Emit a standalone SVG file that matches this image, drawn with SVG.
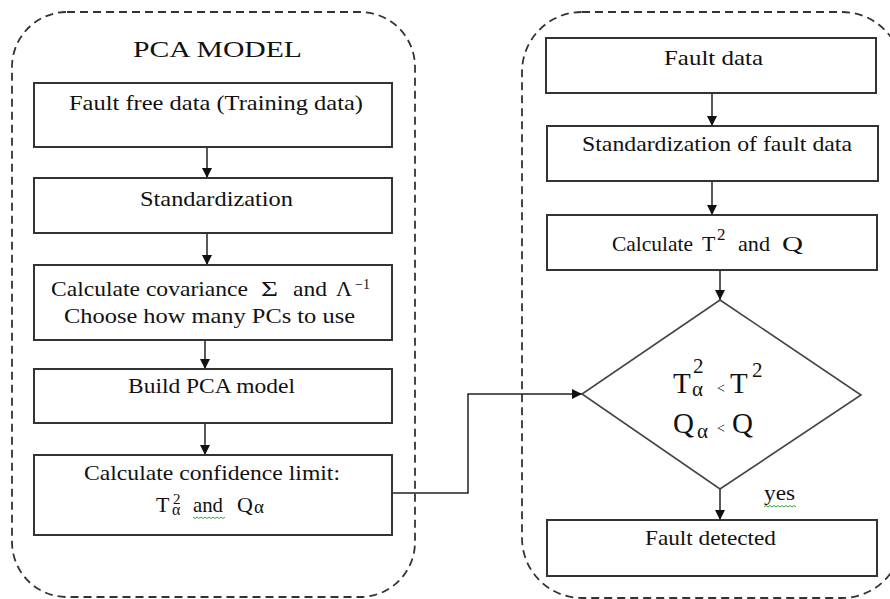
<svg xmlns="http://www.w3.org/2000/svg" width="890" height="599" viewBox="0 0 890 599">
  <style>
    .frame { fill: none; stroke: #333; stroke-width: 1.8; stroke-dasharray: 8 5; }
    .box { fill: #fff; stroke: #333; stroke-width: 2; }
    .dia { fill: #fff; stroke: #444; stroke-width: 1.6; }
    .edge { fill: none; stroke: #222; stroke-width: 1.5; }
    .t { font-family: "Liberation Serif", "Times New Roman", serif; font-size: 22px; fill: #111; }
    .title { font-size: 24px; }
    .big { font-size: 29px; }
    .sup { font-size: 16px; }
    .lt { font-size: 14px; }
    .squig { fill: none; stroke: #3a3; stroke-width: 1; }
  </style>
  <defs>
    <marker id="arrow" markerUnits="userSpaceOnUse" markerWidth="11" markerHeight="11" refX="10" refY="5" orient="auto">
      <path d="M0,0 L10,5 L0,10 z" fill="#111"/>
    </marker>
  </defs>

  <rect width="890" height="599" fill="#fff"/>

  <!-- dashed group frames -->
  <rect class="frame" x="12" y="12" width="403" height="585" rx="55" ry="55"/>
  <rect class="frame" x="522" y="12" width="380" height="586" rx="60" ry="60"/>

  <text class="t title" x="133" y="57" textLength="169" lengthAdjust="spacingAndGlyphs">PCA MODEL</text>

  <!-- connectors -->
  <g id="connectors">
    <line class="edge" x1="207" y1="147" x2="207" y2="178" marker-end="url(#arrow)"/>
    <line class="edge" x1="207" y1="233" x2="207" y2="265" marker-end="url(#arrow)"/>
    <line class="edge" x1="205" y1="340" x2="205" y2="369" marker-end="url(#arrow)"/>
    <line class="edge" x1="205" y1="423" x2="205" y2="455" marker-end="url(#arrow)"/>
    <polyline class="edge" points="392,493 468,493 468,394 582,394" marker-end="url(#arrow)"/>
    <line class="edge" x1="712" y1="93" x2="712" y2="126" marker-end="url(#arrow)"/>
    <line class="edge" x1="712" y1="181" x2="712" y2="215" marker-end="url(#arrow)"/>
    <line class="edge" x1="720" y1="270" x2="720" y2="300" marker-end="url(#arrow)"/>
    <line class="edge" x1="720" y1="489" x2="720" y2="520" marker-end="url(#arrow)"/>
    <text class="t" x="764" y="500" font-size="20" textLength="31" lengthAdjust="spacingAndGlyphs">yes</text>
    <path class="squig" d="M764,507 l2,-1.5 l2,1.5 l2,-1.5 l2,1.5 l2,-1.5 l2,1.5 l2,-1.5 l2,1.5 l2,-1.5 l2,1.5 l2,-1.5 l2,1.5 l2,-1.5 l2,1.5 l2,-1.5 l2,1.5"/>
  </g>

  <!-- PCA model steps -->
  <g id="fault-free-data">
    <rect class="box" x="34" y="83" width="358" height="64"/>
    <text class="t" x="69" y="110" textLength="294" lengthAdjust="spacingAndGlyphs">Fault free data (Training data)</text>
  </g>

  <g id="standardization">
    <rect class="box" x="34" y="178" width="358" height="55"/>
    <text class="t" x="140" y="206" textLength="153" lengthAdjust="spacingAndGlyphs">Standardization</text>
  </g>

  <g id="covariance">
    <rect class="box" x="34" y="265" width="358" height="75"/>
    <text class="t" x="51" y="296" textLength="197" lengthAdjust="spacingAndGlyphs">Calculate covariance</text>
    <text class="t" x="261" y="296" textLength="17" lengthAdjust="spacingAndGlyphs">Σ</text>
    <text class="t" x="293" y="296" textLength="34" lengthAdjust="spacingAndGlyphs">and</text>
    <text class="t" x="336" y="296">Λ<tspan x="355" dy="-7" font-size="14">−1</tspan></text>
    <text class="t" x="64" y="323" textLength="291" lengthAdjust="spacingAndGlyphs">Choose how many PCs to use</text>
  </g>

  <g id="build-model">
    <rect class="box" x="34" y="369" width="358" height="54"/>
    <text class="t" x="128" y="393" textLength="167" lengthAdjust="spacingAndGlyphs">Build PCA model</text>
  </g>

  <g id="confidence-limit">
    <rect class="box" x="34" y="455" width="358" height="80"/>
    <text class="t" x="84" y="480" textLength="256" lengthAdjust="spacingAndGlyphs">Calculate confidence limit:</text>
    <text class="t" x="156" y="512">T<tspan x="173" y="504" font-size="15">2</tspan><tspan x="172" y="515" font-size="16">α</tspan></text>
    <text class="t" x="193" y="512" textLength="30" lengthAdjust="spacingAndGlyphs">and</text>
    <path class="squig" d="M193,517 l2,1.5 l2,-1.5 l2,1.5 l2,-1.5 l2,1.5 l2,-1.5 l2,1.5 l2,-1.5 l2,1.5 l2,-1.5 l2,1.5 l2,-1.5 l2,1.5 l2,-1.5 l2,1.5 l2,-1.5"/>
    <text class="t" x="237" y="512">Q<tspan x="254" y="513" font-size="19">α</tspan></text>
  </g>

  <!-- fault detection steps -->
  <g id="fault-data">
    <rect class="box" x="546" y="38" width="330" height="55"/>
    <text class="t" x="664" y="65" textLength="99" lengthAdjust="spacingAndGlyphs">Fault data</text>
  </g>

  <g id="standardize-fault">
    <rect class="box" x="547" y="126" width="331" height="55"/>
    <text class="t" x="582" y="151" textLength="270" lengthAdjust="spacingAndGlyphs">Standardization of fault data</text>
  </g>

  <g id="calc-t2-q">
    <rect class="box" x="547" y="215" width="330" height="55"/>
    <text class="t" x="612" y="251" textLength="81" lengthAdjust="spacingAndGlyphs">Calculate</text>
    <text class="t" x="702" y="251">T<tspan x="717" y="240" font-size="17">2</tspan></text>
    <text class="t" x="738" y="251" textLength="32" lengthAdjust="spacingAndGlyphs">and</text>
    <text class="t" x="782" y="251" textLength="21" lengthAdjust="spacingAndGlyphs">Q</text>
  </g>

  <g id="limit-check">
    <polygon class="dia" points="720,300 861,395 720,489 582,394"/>
    <text class="t big" x="673" y="393">T<tspan x="693" y="373" font-size="21">2</tspan><tspan x="692" y="396" font-size="21">α</tspan><tspan x="717" y="393" font-size="14">&lt;</tspan><tspan x="730" y="393">T</tspan><tspan x="752" y="377" font-size="21">2</tspan></text>
    <text class="t big" x="673" y="433">Q<tspan x="697" y="438" font-size="21">α</tspan><tspan x="717" y="433" font-size="14">&lt;</tspan><tspan x="732" y="433">Q</tspan></text>
  </g>

  <g id="fault-detected">
    <rect class="box" x="547" y="520" width="330" height="56"/>
    <text class="t" x="645" y="545" textLength="131" lengthAdjust="spacingAndGlyphs">Fault detected</text>
  </g>
</svg>
